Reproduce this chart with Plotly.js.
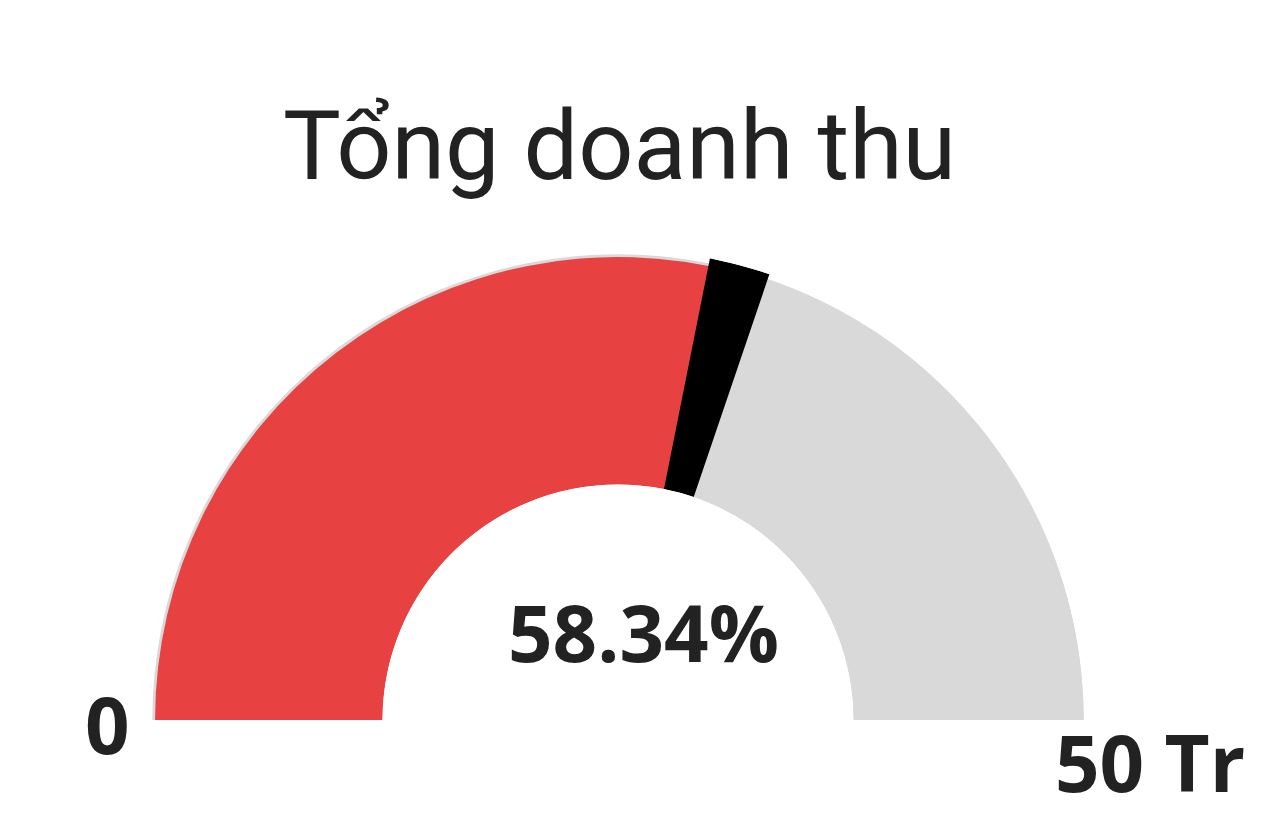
<!DOCTYPE html>
<html>
<head>
<meta charset="utf-8">
<script src="https://cdn.plot.ly/plotly-3.0.1.min.js"></script>
<style>
  html, body { margin: 0; padding: 0; background: #ffffff; }
  #chart { width: 1280px; height: 832px; }
</style>
</head>
<body>
<div id="chart"></div>
<script>
// số liệu
const chartTitle = 'Tổng doanh thu'
const revenue = [29.17]          // triệu đồng
const target = [50]              // triệu đồng
const endLabels = ['0', '50 Tr']

const percent = revenue[0] / target[0] * 100
const filledDeg = percent / 100 * 180
const restDeg = 180 - filledDeg

const red = '#e84142'
const grey = '#d9d9d9'

// nền xám phía sau (tạo viền mờ quanh cung đỏ)
const bg = {
    type: 'barpolar',
    r: [1.012],
    theta: [90],
    width: [180],
    marker: { color: grey, line: { width: 0 } },
    hoverinfo: 'skip'
}
const filled = {
    type: 'barpolar',
    r: [1],
    theta: [filledDeg / 2],
    width: [filledDeg],
    marker: { color: red, line: { width: 0 } },
    hoverinfo: 'skip'
}
const rest = {
    type: 'barpolar',
    r: [1.012],
    theta: [filledDeg + restDeg / 2],
    width: [restDeg],
    marker: { color: grey, line: { width: 0 } },
    hoverinfo: 'skip'
}
const marker = {
    type: 'barpolar',
    r: [1.035],
    theta: [filledDeg],
    width: [7.5],
    marker: { color: '#000000', line: { width: 0 } },
    hoverinfo: 'skip'
}

const numFont = { family: 'Open Sans, sans-serif', size: 78, color: '#222222', weight: 700 }

var layout = {
    width: 1280,
    height: 832,
    margin: { l: 0, r: 0, t: 0, b: 0 },
    paper_bgcolor: '#ffffff',
    plot_bgcolor: '#ffffff',
    showlegend: false,
    title: {
        text: chartTitle,
        font: { family: 'Roboto, sans-serif', size: 97, color: '#222222' },
        x: 0.484, xanchor: 'center',
        y: 0.826, yanchor: 'middle'
    },
    polar: {
        domain: { x: [0, 0.9656], y: [0.1346, 0.7006] },
        sector: [0, 180],
        hole: 0.5,
        bargap: 0,
        bgcolor: 'rgba(0,0,0,0)',
        radialaxis: { range: [0, 1.035], visible: false },
        angularaxis: {
            rotation: 180, direction: 'clockwise',
            visible: false, showgrid: false, showline: false, ticks: ''
        }
    },
    annotations: [
        {
            text: percent.toFixed(2) + '%',
            xref: 'paper', yref: 'paper',
            x: 0.503, y: 1 - 632 / 832,
            xanchor: 'center', yanchor: 'middle',
            showarrow: false, font: numFont
        },
        {
            text: endLabels[0],
            xref: 'paper', yref: 'paper',
            x: 107 / 1280, y: 1 - 724 / 832,
            xanchor: 'center', yanchor: 'middle',
            showarrow: false, font: numFont
        },
        {
            text: endLabels[1],
            xref: 'paper', yref: 'paper',
            x: 1150 / 1280, y: 1 - 762 / 832,
            xanchor: 'center', yanchor: 'middle',
            showarrow: false, font: numFont
        }
    ]
}

Plotly.newPlot('chart', [bg, filled, rest, marker], layout, { displayModeBar: false, staticPlot: true })
</script>
</body>
</html>
